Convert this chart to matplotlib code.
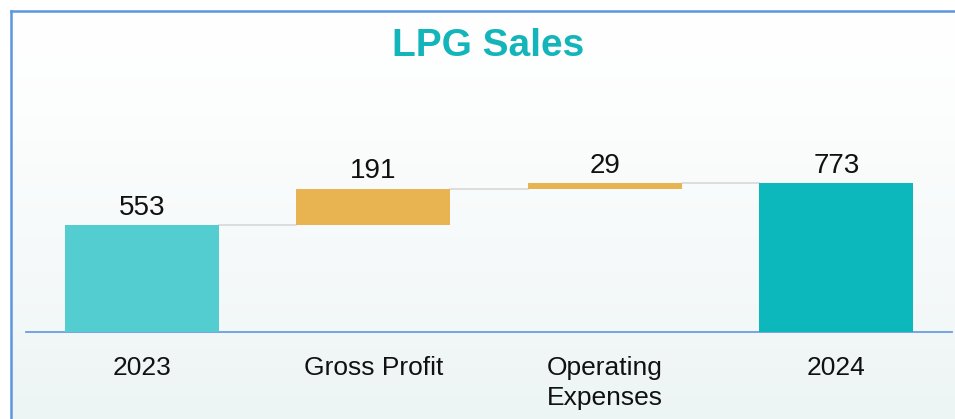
import numpy as np
import matplotlib.pyplot as plt

# data
categories = ["2023", "Gross Profit", "Operating\nExpenses", "2024"]
changes = [553, 191, 29, 773]
kinds = ["total", "delta", "delta", "total"]
bar_colors = ["#53cdd0", "#e8b451", "#e8b451", "#0cb8bc"]

plt.rcParams["font.family"] = ["Liberation Sans", "DejaVu Sans"]

W, H = 955, 419
fig = plt.figure(figsize=(W / 100, H / 100), dpi=100)
fig.patch.set_facecolor("white")

# background panel with soft gradient and blue frame
bg = fig.add_axes([11 / W, 0, (W - 11) / W, (H - 11) / H])
grad = np.linspace(0, 1, 256)[:, None]
top = np.array([1.0, 1.0, 1.0])
bot = np.array([0.93, 0.958, 0.958])
img = top + (bot - top) * (grad ** 1.3)[..., None]
img = np.repeat(img, 4, axis=1)
bg.imshow(img, aspect="auto", extent=[0, 1, 0, 1], origin="upper")
bg.set_xlim(0, 1)
bg.set_ylim(0, 1)
bg.set_xticks([])
bg.set_yticks([])
for s in ["right", "bottom"]:
    bg.spines[s].set_visible(False)
for s in ["top", "left"]:
    bg.spines[s].set_color("#5b96e0")
    bg.spines[s].set_linewidth(1.8)

# chart axes
base_px = 332
scale = (base_px - 183) / 773.0  # px per unit
ax_top_px = 60
ymax = (base_px - ax_top_px) / scale
ax = fig.add_axes([26 / W, (H - base_px) / H, (952 - 26) / W, (base_px - ax_top_px) / H])
ax.patch.set_alpha(0)

x = np.arange(len(categories))
width = 0.665
bottoms, heights, tops = [], [], []
running = 0
for v, k in zip(changes, kinds):
    if k == "total":
        b, h = 0, v
        running = v
    else:
        b, h = running, v
        running += v
    bottoms.append(b)
    heights.append(h)
    tops.append(b + h)

ax.bar(x, heights, bottom=bottoms, width=width, color=bar_colors, zorder=3)

# connectors
for i in range(len(x) - 1):
    ax.plot([x[i] + width / 2, x[i + 1] - width / 2], [tops[i], tops[i]],
            color="#d5d5d5", lw=1.1, zorder=2)

# value labels
for xi, t, v in zip(x, tops, changes):
    ax.text(xi, t + 22, str(v), ha="center", va="bottom", fontsize=20, color="#111111")

ax.set_xlim(-0.5, len(categories) - 0.5)
ax.set_ylim(0, ymax)
ax.set_xticks(x)
ax.set_xticklabels(categories, fontsize=19, color="#111111", linespacing=1.35)
ax.tick_params(axis="x", length=0, pad=17)
ax.set_yticks([])
for s in ["top", "right", "left"]:
    ax.spines[s].set_visible(False)
ax.spines["bottom"].set_color("#6d9de0")
ax.spines["bottom"].set_linewidth(1.3)

fig.text(488 / W, 1 - 46 / H, "LPG Sales", ha="center", va="center",
         fontsize=28, fontweight="bold", color="#13b5ba")

fig.savefig("out.png", dpi=100)
